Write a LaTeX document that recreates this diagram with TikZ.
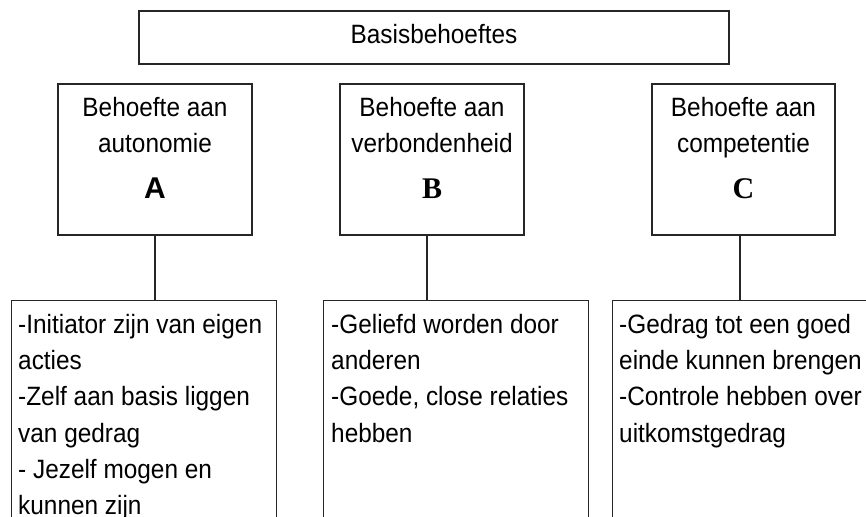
\documentclass[tikz,border=0pt]{standalone}
\usepackage{fontspec}
\setmainfont{Liberation Sans}[FakeStretch=0.92]
\newfontfamily\lettersans{Liberation Sans}
\newfontfamily\letterserif{Liberation Serif}
\begin{document}
\begin{tikzpicture}[x=1pt,y=-1pt]
    \tikzset{frame/.style={draw=black!85, line width=1.3pt, inner sep=0pt},
             need/.style={frame, align=center, minimum height=151pt, font=\fontsize{26.5}{36}\selectfont},
             list/.style={frame, anchor=north west, minimum width=265pt, minimum height=240pt},
             listtext/.style={anchor=north west, align=left, inner sep=0pt, font=\fontsize{26.5}{36.3}\selectfont}}
    \newcommand{\bigletter}[1]{{\fontsize{30}{36}\selectfont\bfseries #1}\rule[-23.3pt]{0pt}{23.3pt}}
    \useasboundingbox (0,0) rectangle (866,516);
    \clip (0,0) rectangle (866,516);
    % top
    \node[frame, minimum width=590pt, minimum height=53pt, text depth=7.6pt, font=\fontsize{26.5}{36}\selectfont] (basis) at (434,37.5) {Basisbehoeftes};
    % the three needs
    \node[need, minimum width=194pt] (autA) at (155,159.5) {Behoefte aan\\autonomie\\[9.6pt]\bigletter{\lettersans A}};
    \node[need, minimum width=184pt] (verbB) at (432,159.5) {Behoefte aan\\verbondenheid\\[9.6pt]\bigletter{\letterserif B}};
    \node[need, minimum width=183pt] (compC) at (743.5,159.5) {Behoefte aan\\competentie\\[9.6pt]\bigletter{\letterserif C}};
    % lists
    \node[list] (listA) at (11,300) {};
    \node[list] (listB) at (323,300) {};
    \node[list] (listC) at (612,300) {};
    \node[listtext, xshift=7pt, yshift=-13.7pt] (textA) at (listA.north west) {-Initiator zijn van eigen\\acties\\-Zelf aan basis liggen\\van gedrag\\- Jezelf mogen en\\kunnen zijn};
    \node[listtext, xshift=8pt, yshift=-13.7pt] (textB) at (listB.north west) {-Geliefd worden door\\anderen\\-Goede, close relaties\\hebben};
    \node[listtext, xshift=7pt, yshift=-13.7pt] (textC) at (listC.north west) {-Gedrag tot een goed\\einde kunnen brengen\\-Controle hebben over\\uitkomstgedrag};
    % connectors
    \draw[frame] (autA.south) -- (autA.south |- listA.north);
    \draw[frame] ([xshift=-5pt]verbB.south) -- ([xshift=-5pt]verbB.south |- listB.north);
    \draw[frame] ([xshift=-3.5pt]compC.south) -- ([xshift=-3.5pt]compC.south |- listC.north);
\end{tikzpicture}
\end{document}
